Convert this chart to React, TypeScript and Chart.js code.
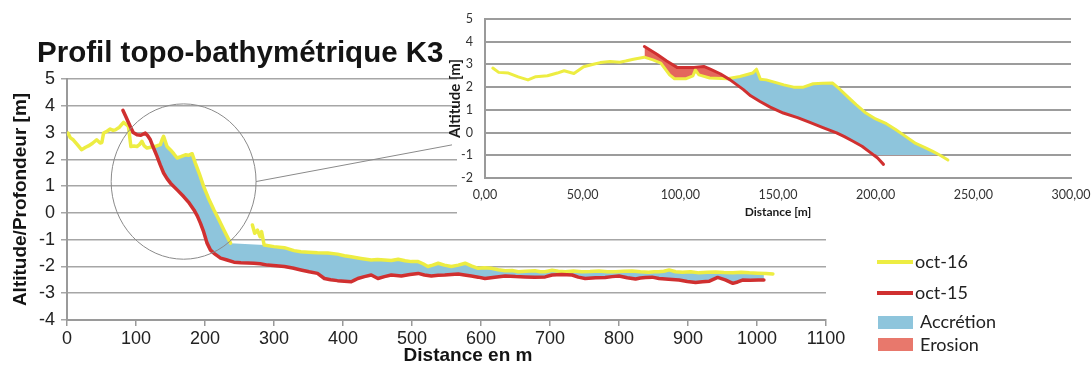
import React, { useEffect, useRef } from 'react';
import { Chart, registerables } from 'chart.js';

Chart.register(...registerables);

// ---------- Main profile (0 – 1100 m) ----------
const mainOct16Dist = [
  1.5, 5, 9, 15, 21, 27, 31, 37, 43, 48, 50.5, 53, 58, 62.6, 67, 70, 76, 82, 86, 89,
  92.6, 97, 101.4, 105, 108.6, 112, 116, 121, 125.6, 130, 135.3, 138, 140, 145, 150, 155, 159.6, 165, 171.7, 176,
  181.4, 186, 192, 198, 205, 213, 220, 227.4, 237, 250,
  268.7, 272, 276, 279.8, 282, 285.7, 300, 315, 329, 339, 350, 363, 378, 392, 402, 411.8, 426, 441, 450, 460,
  470, 480, 490, 499, 509, 516, 523, 530, 538, 547, 557, 567, 577, 586, 596, 605, 615, 625, 635, 645,
  654, 665, 678, 686, 693, 703, 712, 722, 734, 746, 758, 771, 783, 795, 807, 819, 831, 843, 851, 858,
  865, 872.6, 882, 892, 904, 916, 928, 940, 952, 965, 977, 989, 1001, 1013, 1023,
];
const mainOct16Alt: (number | null)[] = [
  2.98, 2.8, 2.73, 2.55, 2.36, 2.45, 2.5, 2.6, 2.73, 2.61, 2.63, 2.98, 3.05, 3.13, 3.08, 3.1, 3.2, 3.38, 3.3, 3.23,
  2.48, 2.5, 2.48, 2.55, 2.67, 2.5, 2.42, 2.45, 2.48, 2.5, 2.55, 2.75, 2.86, 2.48, 2.35, 2.2, 2.05, 2.1, 2.17, 2.15,
  2.21, 1.86, 1.45, 0.99, 0.55, 0.11, -0.25, -0.64, -1.13, null,
  -0.45, -0.76, -0.64, -0.89, -0.7, -1.2, -1.26, -1.3, -1.41, -1.45, -1.47, -1.49, -1.5, -1.54, -1.6, -1.64, -1.7, -1.76, -1.74, -1.76,
  -1.78, -1.73, -1.79, -1.82, -1.82, -1.9, -2.0, -1.95, -1.88, -1.95, -2.0, -1.95, -1.88, -1.98, -2.07, -2.05, -2.07, -2.12, -2.16, -2.15,
  -2.2, -2.18, -2.16, -2.2, -2.2, -2.14, -2.18, -2.2, -2.17, -2.2, -2.19, -2.17, -2.2, -2.2, -2.18, -2.17, -2.2, -2.22, -2.2, -2.2,
  -2.18, -2.13, -2.2, -2.22, -2.2, -2.24, -2.22, -2.21, -2.23, -2.24, -2.22, -2.24, -2.25, -2.26, -2.28,
];
const mainOct15Dist = [
  81, 86, 91.7, 96, 101.4, 107, 113.5, 117, 120.8, 125, 130.5, 135, 140, 145, 150, 160, 169, 177, 184, 189,
  193.5, 198, 203, 208, 213, 222.6, 232, 242, 252, 262, 271, 280, 290.6, 303, 315, 327, 339, 351, 363, 373,
  382, 392, 402, 412, 416, 421.5, 431, 441, 450.6, 460, 470, 484.5, 497, 509, 518, 528, 538, 547.5, 557, 567,
  576, 586, 596, 605.7, 620, 635, 650, 664, 678, 693, 703, 717, 732, 741, 751, 766, 780, 790, 800, 812,
  824, 831, 838.5, 848, 858, 872, 887, 899, 911, 921, 931, 943, 954, 965, 972, 979, 990, 1002, 1010,
];
const mainOct15Alt = [
  3.83, 3.55, 3.23, 3.0, 2.92, 2.9, 2.98, 2.88, 2.73, 2.45, 2.11, 1.8, 1.49, 1.28, 1.11, 0.85, 0.61, 0.37, 0.11, -0.12,
  -0.39, -0.7, -1.13, -1.39, -1.51, -1.69, -1.76, -1.84, -1.86, -1.87, -1.88, -1.9, -1.95, -1.97, -2.0, -2.06, -2.13, -2.2, -2.26, -2.45,
  -2.5, -2.53, -2.55, -2.57, -2.52, -2.45, -2.38, -2.32, -2.45, -2.38, -2.32, -2.36, -2.3, -2.26, -2.32, -2.36, -2.33, -2.32, -2.3, -2.28,
  -2.32, -2.36, -2.4, -2.45, -2.4, -2.36, -2.38, -2.39, -2.4, -2.39, -2.32, -2.3, -2.32, -2.4, -2.45, -2.42, -2.41, -2.38, -2.36, -2.42,
  -2.47, -2.43, -2.41, -2.4, -2.45, -2.48, -2.51, -2.56, -2.6, -2.57, -2.55, -2.41, -2.5, -2.63, -2.58, -2.51, -2.52, -2.51, -2.51,
];
// the fill boundary skips the isolated oct-16 spike
const mainSpikeFrom = 240;
const mainSpikeTo = 285;

const mainXRange = [0, 1100];
const mainXStep = 100;
const mainYRange = [-4, 5];
const mainYStep = 1;

// circle highlighting the zoomed zone, and the pointer to the inset (data units)
const zoomCircle = { x: 169, y: 1.17, rx: 105, ry: 2.9 };
const zoomPointerEnd = { x: 558, y: 2.54 };

// ---------- Inset (zoom 0 – 300 m) ----------
const insetOct16Dist = [
  4, 7, 12, 17, 22, 26, 32, 37, 40.5, 45.5, 50.5, 55, 59, 64, 69, 72, 76, 81.5, 86, 90,
  94.5, 97, 103, 106.5, 107.7, 109.5, 115, 124, 130.5, 137, 139, 141, 144, 149, 153, 158, 163, 168, 173, 178,
  181.5, 186, 190, 195, 200, 205.5, 210, 214, 220.5, 225, 229, 233, 237,
];
const insetOct16Alt = [
  2.84, 2.65, 2.62, 2.45, 2.32, 2.46, 2.5, 2.62, 2.72, 2.6, 2.9, 3.0, 3.08, 3.13, 3.1, 3.15, 3.23, 3.32, 3.2, 3.06,
  2.54, 2.37, 2.37, 2.5, 2.76, 2.54, 2.4, 2.37, 2.47, 2.62, 2.79, 2.35, 2.32, 2.2, 2.1, 2.0, 2.0, 2.15, 2.17, 2.18,
  1.92, 1.55, 1.23, 0.86, 0.6, 0.39, 0.15, -0.09, -0.48, -0.65, -0.82, -1.0, -1.21,
];
const insetOct15Dist = [
  81.6, 88, 93, 98.3, 103, 107, 112, 115.3, 120.4, 125.5, 132.3, 136, 140.8, 146, 152.7, 160, 166.3, 173, 180, 184,
  188.4, 193, 197, 201, 204,
];
const insetOct15Alt = [
  3.79, 3.45, 3.15, 2.87, 2.87, 2.87, 2.91, 2.79, 2.59, 2.32, 1.89, 1.62, 1.37, 1.12, 0.86, 0.66, 0.45, 0.22, -0.01, -0.18,
  -0.38, -0.6, -0.86, -1.12, -1.4,
];
const insetFillFloor = -1;
const insetXRange = [0, 300];
const insetXStep = 50;
const insetYRange = [-2, 5];
const insetYStep = 1;

// ---------- Styles ----------
const YELLOW = '#eded42';
const RED = '#d03030';
const BLUE = '#8ec5dc';
const SALMON = '#e4675d';
const LEGEND_SALMON = '#e8786c';
const GRID = '#a6a6a6';
const AXIS = '#9a9a9a';
const ARIAL = 'Arial, "Liberation Sans", Helvetica, sans-serif';
const CALIBRI = 'Lato, "Open Sans", sans-serif';

type Pt = { x: number; y: number | null };
const zip = (xs: number[], ys: (number | null)[]): Pt[] => {
  const n = Math.min(xs.length, ys.length);
  const out: Pt[] = [];
  for (let i = 0; i < n; i++) out.push({ x: xs[i], y: ys[i] });
  return out;
};

const mainDecor = {
  id: 'mainDecor',
  afterDatasetsDraw(chart: any) {
    const { ctx, scales } = chart;
    const xs = scales.x;
    const ys = scales.y;
    const cx = xs.getPixelForValue(zoomCircle.x);
    const cy = ys.getPixelForValue(zoomCircle.y);
    const rx = xs.getPixelForValue(zoomCircle.x + zoomCircle.rx) - cx;
    const ry = cy - ys.getPixelForValue(zoomCircle.y + zoomCircle.ry);
    ctx.save();
    ctx.strokeStyle = '#8a8a8a';
    ctx.lineWidth = 1;
    ctx.beginPath();
    ctx.ellipse(cx, cy, rx, ry, 0, 0, Math.PI * 2);
    ctx.stroke();
    ctx.beginPath();
    ctx.moveTo(cx + rx, cy);
    ctx.lineTo(xs.getPixelForValue(zoomPointerEnd.x), ys.getPixelForValue(zoomPointerEnd.y));
    ctx.stroke();
    ctx.restore();
  },
  afterDraw(chart: any) {
    const { ctx } = chart;
    ctx.save();
    // title
    ctx.fillStyle = '#141414';
    ctx.font = `bold 29.5px ${ARIAL}`;
    ctx.textAlign = 'left';
    ctx.textBaseline = 'alphabetic';
    ctx.fillText('Profil topo-bathymétrique K3', 37, 62);
    // x axis title
    ctx.font = `bold 19px ${ARIAL}`;
    ctx.textAlign = 'center';
    ctx.textBaseline = 'middle';
    ctx.fillText('Distance en m', 468, 356);
    // legend
    ctx.textAlign = 'left';
    ctx.font = `18px ${CALIBRI}`;
    ctx.lineWidth = 4;
    ctx.strokeStyle = YELLOW;
    ctx.beginPath();
    ctx.moveTo(877, 262);
    ctx.lineTo(913, 262);
    ctx.stroke();
    ctx.strokeStyle = RED;
    ctx.beginPath();
    ctx.moveTo(877, 293);
    ctx.lineTo(913, 293);
    ctx.stroke();
    ctx.fillStyle = BLUE;
    ctx.fillRect(878, 316, 35, 13);
    ctx.fillStyle = LEGEND_SALMON;
    ctx.fillRect(878, 338, 35, 13);
    ctx.fillStyle = '#222';
    ctx.fillText('oct-16', 915, 262);
    ctx.fillText('oct-15', 915, 293);
    ctx.fillText('Accrétion', 920, 322);
    ctx.fillText('Erosion', 920, 345);
    ctx.restore();
  },
};

const insetBg = {
  id: 'insetBg',
  beforeDraw(chart: any) {
    const { ctx, width, height } = chart;
    ctx.save();
    ctx.fillStyle = '#ffffff';
    ctx.fillRect(13, 0, width - 13, height);
    ctx.restore();
  },
};

function MainChart() {
  const ref = useRef<HTMLCanvasElement>(null);
  useEffect(() => {
    const canvas = ref.current;
    if (!canvas) return;
    const yellow = zip(mainOct16Dist, mainOct16Alt);
    const red = zip(mainOct15Dist, mainOct15Alt);
    const fillTop = yellow.filter((p) => p.y !== null && !(p.x > mainSpikeFrom && p.x < mainSpikeTo));
    const chart = new Chart(canvas, {
      type: 'line',
      data: {
        datasets: [
          { label: 'oct-15', data: red as any, borderColor: RED, borderWidth: 3.5, fill: false, pointRadius: 0 },
          { label: 'oct-16', data: yellow as any, borderColor: YELLOW, borderWidth: 3.5, fill: false, spanGaps: false, pointRadius: 0 },
          {
            label: 'fill',
            data: fillTop as any,
            borderColor: 'rgba(0,0,0,0)',
            borderWidth: 0,
            pointRadius: 0,
            fill: { target: 0, above: BLUE, below: 'rgba(0,0,0,0)' },
          },
        ],
      },
      options: {
        animation: false,
        responsive: false,
        events: [],
        layout: { padding: { left: 0, top: 79, right: 265, bottom: 0 } },
        elements: { line: { tension: 0, borderCapStyle: 'round', borderJoinStyle: 'round' }, point: { radius: 0 } },
        plugins: {
          legend: { display: false },
          tooltip: { enabled: false },
          filler: { propagate: false, drawTime: 'beforeDatasetsDraw' },
        } as any,
        scales: {
          x: {
            type: 'linear',
            min: mainXRange[0],
            max: mainXRange[1],
            ticks: {
              stepSize: mainXStep,
              autoSkip: false,
              maxRotation: 0,
              padding: 2,
              color: '#222',
              font: { family: ARIAL, size: 18 },
              callback: (v: any) => String(v),
            },
            grid: { drawOnChartArea: false, drawTicks: true, tickLength: 6, color: AXIS, lineWidth: 1.5 },
            border: { display: true, color: AXIS, width: 2 },
            afterFit: (s: any) => { s.height = 47; },
          },
          y: {
            type: 'linear',
            min: mainYRange[0],
            max: mainYRange[1],
            ticks: {
              stepSize: mainYStep,
              padding: 6,
              color: '#222',
              font: { family: ARIAL, size: 18 },
              callback: (v: any) => String(v),
            },
            grid: { color: GRID, lineWidth: 1.5, drawTicks: true, tickLength: 6 },
            border: { display: true, color: AXIS, width: 2 },
            title: {
              display: true,
              text: 'Altitude/Profondeur [m]',
              color: '#141414',
              font: { family: ARIAL, size: 19, weight: 'bold' },
              padding: { top: 9, bottom: 0 },
            },
            afterFit: (s: any) => { s.width = 67; },
          },
        },
      },
      plugins: [mainDecor],
    } as any);
    return () => chart.destroy();
  }, []);
  return <canvas ref={ref} width={1091} height={367} style={{ position: 'absolute', left: 0, top: 0 }} />;
}

function InsetChart() {
  const ref = useRef<HTMLCanvasElement>(null);
  useEffect(() => {
    const canvas = ref.current;
    if (!canvas) return;
    const yellow = zip(insetOct16Dist, insetOct16Alt);
    const red = zip(insetOct15Dist, insetOct15Alt);
    const fillTop = yellow.map((p) => ({ x: p.x, y: Math.max(p.y as number, insetFillFloor) }));
    const fillBottom = red.map((p) => ({ x: p.x, y: Math.max(p.y as number, insetFillFloor) }));
    fillBottom.push({ x: insetOct16Dist[insetOct16Dist.length - 1], y: insetFillFloor });
    const chart = new Chart(canvas, {
      type: 'line',
      data: {
        datasets: [
          { label: 'oct-15', data: red as any, borderColor: RED, borderWidth: 3, fill: false, pointRadius: 0 },
          { label: 'oct-16', data: yellow as any, borderColor: YELLOW, borderWidth: 3, fill: false, pointRadius: 0 },
          {
            label: 'fillTop',
            data: fillTop as any,
            borderColor: 'rgba(0,0,0,0)',
            borderWidth: 0,
            pointRadius: 0,
            fill: { target: 3, above: BLUE, below: SALMON },
          },
          { label: 'fillBottom', data: fillBottom as any, borderColor: 'rgba(0,0,0,0)', borderWidth: 0, pointRadius: 0, fill: false },
        ],
      },
      options: {
        animation: false,
        responsive: false,
        events: [],
        layout: { padding: { left: 0, top: 19, right: 20, bottom: 0 } },
        elements: { line: { tension: 0, borderCapStyle: 'round', borderJoinStyle: 'round' }, point: { radius: 0 } },
        plugins: {
          legend: { display: false },
          tooltip: { enabled: false },
          filler: { propagate: false, drawTime: 'beforeDatasetsDraw' },
        } as any,
        scales: {
          x: {
            type: 'linear',
            min: insetXRange[0],
            max: insetXRange[1],
            ticks: {
              stepSize: insetXStep,
              autoSkip: false,
              maxRotation: 0,
              padding: 9,
              color: '#333',
              font: { family: CALIBRI, size: 12.5 },
              callback: (v: any) => Number(v).toFixed(2).replace('.', ','),
            },
            grid: { drawOnChartArea: false, drawTicks: false },
            border: { display: true, color: AXIS, width: 2 },
            title: {
              display: true,
              text: 'Distance [m]',
              color: '#1a1a1a',
              font: { family: CALIBRI, size: 12, weight: 'bold' },
              padding: { top: 0, bottom: 6 },
            },
            afterFit: (s: any) => { s.height = 47; s.paddingLeft = 0; s.paddingRight = 0; },
          },
          y: {
            type: 'linear',
            min: insetYRange[0],
            max: insetYRange[1],
            ticks: {
              stepSize: insetYStep,
              padding: 12,
              color: '#333',
              font: { family: CALIBRI, size: 12.5 },
              callback: (v: any) => String(v),
            },
            grid: { color: '#9c9c9c', lineWidth: 2, drawTicks: false },
            border: { display: true, color: AXIS, width: 2 },
            title: {
              display: true,
              text: 'Altitude [m]',
              color: '#1a1a1a',
              font: { family: CALIBRI, size: 15, weight: 'bold' },
              padding: { top: 2, bottom: 0 },
            },
            afterFit: (s: any) => { s.width = 41; s.paddingTop = 0; s.paddingBottom = 0; },
          },
        },
      },
      plugins: [insetBg],
    } as any);
    return () => chart.destroy();
  }, []);
  return <canvas ref={ref} width={647} height={225} style={{ position: 'absolute', left: 444, top: 0 }} />;
}

export default function App() {
  return (
    <div style={{ position: 'absolute', left: 0, top: 0, width: 1091, height: 367, background: '#fff', overflow: 'hidden' }}>
      <MainChart />
      <InsetChart />
    </div>
  );
}
